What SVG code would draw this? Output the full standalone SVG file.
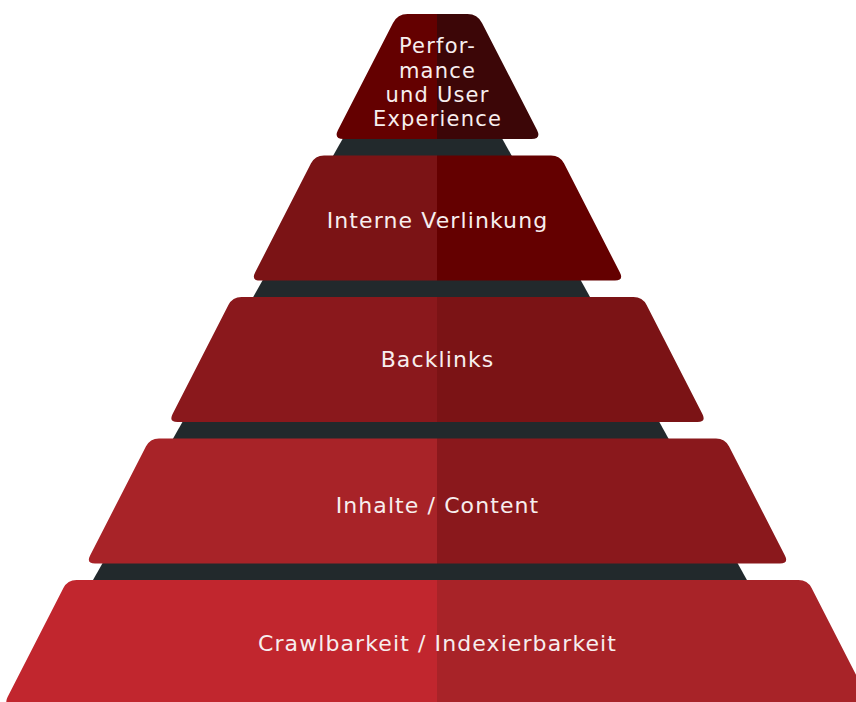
<svg xmlns="http://www.w3.org/2000/svg" width="856" height="702" viewBox="0 0 856 702">
  <defs>
    <style>
      .label { font-family: "DejaVu Sans", "Open Sans", sans-serif; font-size: 22px; letter-spacing: 1.1px; fill: #f7eeee; text-anchor: middle; }
      .small { font-size: 21px; letter-spacing: 1.2px; }
    </style>
    <!-- two-tone fill: left half lighter, right half darker, split at x=437 -->
    <linearGradient id="g1" gradientUnits="userSpaceOnUse" x1="0" y1="0" x2="856" y2="0">
      <stop offset="0.5105" stop-color="#640000"/><stop offset="0.5105" stop-color="#3c0607"/>
    </linearGradient>
    <linearGradient id="g2" gradientUnits="userSpaceOnUse" x1="0" y1="0" x2="856" y2="0">
      <stop offset="0.5105" stop-color="#7b1315"/><stop offset="0.5105" stop-color="#640000"/>
    </linearGradient>
    <linearGradient id="g3" gradientUnits="userSpaceOnUse" x1="0" y1="0" x2="856" y2="0">
      <stop offset="0.5105" stop-color="#8a181c"/><stop offset="0.5105" stop-color="#7b1315"/>
    </linearGradient>
    <linearGradient id="g4" gradientUnits="userSpaceOnUse" x1="0" y1="0" x2="856" y2="0">
      <stop offset="0.5105" stop-color="#a82328"/><stop offset="0.5105" stop-color="#8a181c"/>
    </linearGradient>
    <linearGradient id="g5" gradientUnits="userSpaceOnUse" x1="0" y1="0" x2="856" y2="0">
      <stop offset="0.5105" stop-color="#c1262e"/><stop offset="0.5105" stop-color="#a82328"/>
    </linearGradient>
  </defs>

  <rect width="856" height="702" fill="#ffffff"/>

  <!-- dark pyramid body behind the tiers -->
  <polygon id="backdrop" points="353.3,120 491.9,120 758,600 81.7,600" fill="#22292c"/>

  <g id="tier-5">
    <path d="M76.5,580 L798.5,580 Q807.5,580 811.6,588 L867.4,697 Q871.5,705 862.5,705 L12.5,705 Q3.5,705 7.6,697 L63.4,588 Q67.5,580 76.5,580Z" fill="url(#g5)"/>
    <text class="label" x="437.5" y="651">Crawlbarkeit / Indexierbarkeit</text>
  </g>

  <g id="tier-4">
    <path d="M159,438.5 L716,438.5 Q725,438.5 729.1,446.5 L784.9,555.5 Q789,563.5 780,563.5 L95,563.5 Q86,563.5 90.1,555.5 L145.9,446.5 Q150,438.5 159,438.5Z" fill="url(#g4)"/>
    <text class="label" x="437.5" y="513">Inhalte / Content</text>
  </g>

  <g id="tier-3">
    <path d="M241.5,297 L633.5,297 Q642.5,297 646.6,305 L702.4,414 Q706.5,422 697.5,422 L177.5,422 Q168.5,422 172.6,414 L228.4,305 Q232.5,297 241.5,297Z" fill="url(#g3)"/>
    <text class="label" x="437.5" y="367">Backlinks</text>
  </g>

  <g id="tier-2">
    <path d="M324,155.5 L551,155.5 Q560,155.5 564.1,163.5 L619.9,272.5 Q624,280.5 615,280.5 L260,280.5 Q251,280.5 255.1,272.5 L310.9,163.5 Q315,155.5 324,155.5Z" fill="url(#g2)"/>
    <text class="label" x="437.5" y="228">Interne Verlinkung</text>
  </g>

  <g id="tier-1">
    <path d="M407.5,14 L467.5,14 Q477.5,14 482,23 L537,130 Q541.5,139 531.5,139 L343.5,139 Q333.5,139 338,130 L393,23 Q397.5,14 407.5,14Z" fill="url(#g1)"/>
    <text class="label small" x="437.5" y="53">Perfor-</text>
    <text class="label small" x="437.5" y="77.5">mance</text>
    <text class="label small" x="437.5" y="102">und User</text>
    <text class="label small" x="437.5" y="126">Experience</text>
  </g>
</svg>
